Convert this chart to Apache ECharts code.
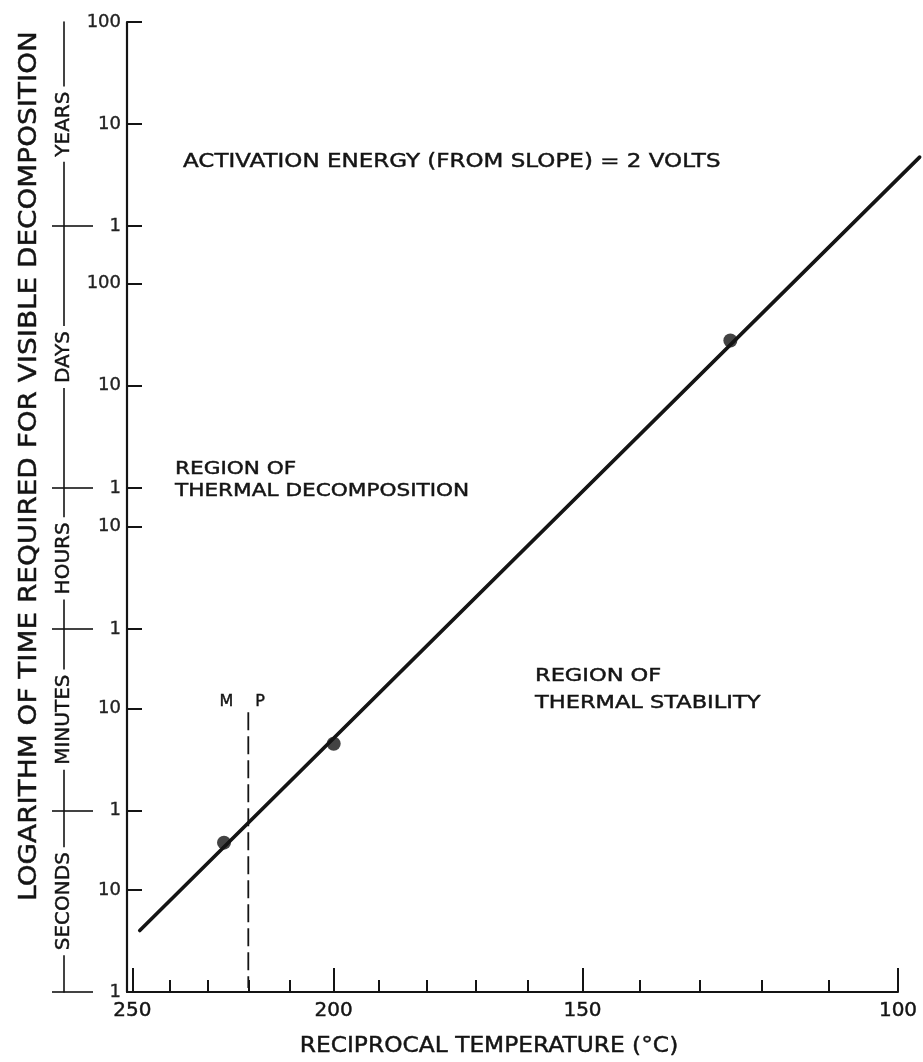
<!DOCTYPE html>
<html>
<head>
<meta charset="utf-8">
<title>Decomposition time vs reciprocal temperature</title>
<script src="https://cdn.jsdelivr.net/npm/echarts@6/dist/echarts.min.js"></script>
<style>
  html, body { margin: 0; padding: 0; background: #fff; }
  #chart { width: 923px; height: 1062px; }
</style>
</head>
<body>
<div id="chart"></div>
<script>
// ---- data ----
// measured points: temperature (°C) and time to visible decomposition (seconds)
const pointTempsC = [226, 200, 125];
const pointTimesSec = [29, 270, 2.4e6];

// straight-line fit drawn through the points (end points)
const fitTempsC = [248, 97];
const fitTimesSec = [4, 1.5e8];

// melting point marker: temperature and vertical extent (seconds)
const meltTempC = 220;
const meltTimesSec = [1, 550];

// temperature axis ticks (°C)
const tempMajor = [250, 200, 150, 100];
const tempMinor = [240, 230, 220, 210, 190, 180, 170, 160, 140, 130, 120, 110];
const tempLeftEdge = 251.5;
const tempRightEdge = 100;

// time axis ticks (seconds) and their labels in the unit of each band
const yTickSeconds = [1, 10, 60, 600, 3600, 36000, 86400, 864000, 8640000, 31557600, 315576000, 3155760000];
const yTickLabels = ['1', '10', '1', '10', '1', '10', '1', '10', '100', '1', '10', '100'];

// unit bands on the outer scale (band edges in seconds)
const unitBoundsSec = [1, 60, 3600, 86400, 31557600, 3155760000];
const unitNames = ['SECONDS', 'MINUTES', 'HOURS', 'DAYS', 'YEARS'];

// ---- helpers ----
const recip = c => 1000 / (c + 273.15);           // 1000 / T(K)
const toC = v => 1000 / v - 273.15;
const lg = s => Math.log10(s);

const INK = '#141414';
const FONT = '"DejaVu Sans", "Liberation Sans", sans-serif';
// a hairline outline thickens the strokes of the lettering a little
const TEXT_EDGE = { textBorderColor: INK, textBorderWidth: 0.45 };

const yMin = lg(unitBoundsSec[0]);
const yMax = lg(unitBoundsSec[unitBoundsSec.length - 1]);
const yTickVals = yTickSeconds.map(lg);
const unitBoundVals = unitBoundsSec.slice(0, -1).map(lg);
const unitMidVals = unitNames.map((_, i) => (lg(unitBoundsSec[i]) + lg(unitBoundsSec[i + 1])) / 2);

function nearestIndex(arr, v) {
  let best = 0;
  for (let i = 1; i < arr.length; i++) {
    if (Math.abs(arr[i] - v) < Math.abs(arr[best] - v)) best = i;
  }
  return best;
}

const xMin = recip(tempLeftEdge);
const xMax = recip(tempRightEdge);

const chart = echarts.init(document.getElementById('chart'), null, { renderer: 'canvas' });

function annotation(text, x, y, size, scaleX, opts) {
  opts = opts || {};
  return {
    type: 'text', x: x, y: y, scaleX: scaleX, rotation: opts.rotation || 0,
    style: {
      text: text, fill: INK, font: size + 'px ' + FONT,
      align: opts.align || 'left', verticalAlign: 'middle',
      stroke: INK, lineWidth: 0.45
    }
  };
}

const option = {
  animation: false,
  backgroundColor: '#fff',
  grid: { left: 127, right: 25, top: 22, bottom: 70, outerBoundsMode: 'none' },
  xAxis: [
    {
      type: 'value', position: 'bottom', min: xMin, max: xMax,
      splitLine: { show: false },
      axisLine: { show: true, lineStyle: { color: INK, width: 2 } },
      axisTick: { show: true, inside: true, length: 24, customValues: tempMajor.map(recip),
                  lineStyle: { color: INK, width: 2 } },
      axisLabel: Object.assign({ show: true, customValues: tempMajor.map(recip), margin: 9,
                   formatter: v => String(Math.round(toC(v))),
                   color: INK, fontFamily: FONT, fontSize: 20 }, TEXT_EDGE)
    },
    {
      type: 'value', position: 'bottom', min: xMin, max: xMax,
      splitLine: { show: false },
      axisLine: { show: false },
      axisTick: { show: true, inside: true, length: 12, customValues: tempMinor.map(recip),
                  lineStyle: { color: INK, width: 2 } },
      axisLabel: { show: false }
    }
  ],
  yAxis: [
    {
      // main logarithmic time scale
      type: 'value', position: 'left', min: yMin, max: yMax,
      splitLine: { show: false },
      axisLine: { show: true, lineStyle: { color: INK, width: 2.2 } },
      axisTick: { show: true, inside: true, length: 15, customValues: yTickVals,
                  lineStyle: { color: INK, width: 2 } },
      axisLabel: Object.assign({ show: true, customValues: yTickVals, margin: 6,
                   formatter: v => yTickLabels[nearestIndex(yTickVals, v)],
                   color: '#222', fontFamily: FONT, fontSize: 18 },
                   { textBorderColor: '#222', textBorderWidth: 0.35 })
    },
    {
      // outer unit scale: line, outward cross ticks and band names
      type: 'value', position: 'left', offset: 63, min: yMin, max: yMax,
      splitLine: { show: false },
      axisLine: { show: true, lineStyle: { color: INK, width: 1.6 } },
      axisTick: { show: true, inside: false, length: 12, customValues: unitBoundVals,
                  lineStyle: { color: INK, width: 1.6 } },
      axisLabel: Object.assign({ show: true, customValues: unitMidVals, rotate: 90, margin: 0,
                   align: 'center', verticalAlign: 'middle',
                   backgroundColor: '#fff', padding: [0, 5, 0, 5],
                   formatter: v => unitNames[nearestIndex(unitMidVals, v)],
                   color: INK, fontFamily: FONT, fontSize: 20 }, TEXT_EDGE)
    },
    {
      // outer unit scale: inward half of the cross ticks
      type: 'value', position: 'left', offset: 63, min: yMin, max: yMax,
      splitLine: { show: false },
      axisLine: { show: false },
      axisTick: { show: true, inside: true, length: 29, customValues: unitBoundVals,
                  lineStyle: { color: INK, width: 1.6 } },
      axisLabel: { show: false }
    }
  ],
  series: [
    {
      // fitted line; runs a little past the end of the temperature axis
      name: 'fit',
      type: 'custom',
      coordinateSystem: 'cartesian2d',
      xAxisIndex: 0, yAxisIndex: 0,
      clip: false,
      encode: { x: [0, 2], y: [1, 3] },
      data: [[recip(fitTempsC[0]), lg(fitTimesSec[0]), recip(fitTempsC[1]), lg(fitTimesSec[1])]],
      renderItem: (params, api) => {
        const a = api.coord([api.value(0), api.value(1)]);
        const b = api.coord([api.value(2), api.value(3)]);
        return {
          type: 'line',
          shape: { x1: a[0], y1: a[1], x2: b[0], y2: b[1] },
          style: { stroke: INK, lineWidth: 3.6, lineCap: 'round' }
        };
      },
      z: 3
    },
    {
      name: 'measured',
      type: 'scatter',
      xAxisIndex: 0, yAxisIndex: 0,
      symbol: 'circle',
      symbolSize: 14,
      itemStyle: { color: INK },
      data: pointTempsC.map((t, i) => [recip(t), lg(pointTimesSec[i])]),
      z: 4
    },
    {
      // melting point: dashed vertical with "M P" on either side of its top
      name: 'melting point',
      type: 'custom',
      coordinateSystem: 'cartesian2d',
      xAxisIndex: 0, yAxisIndex: 0,
      clip: false,
      encode: { x: 0, y: [1, 2] },
      data: [[recip(meltTempC), lg(meltTimesSec[0]), lg(meltTimesSec[1])]],
      renderItem: (params, api) => {
        const bottom = api.coord([api.value(0), api.value(1)]);
        const top = api.coord([api.value(0), api.value(2)]);
        const textStyle = { fill: INK, font: '16px ' + FONT, verticalAlign: 'middle',
                            stroke: INK, lineWidth: 0.4 };
        return {
          type: 'group',
          children: [
            {
              type: 'line',
              shape: { x1: top[0], y1: top[1], x2: bottom[0], y2: bottom[1] - 4 },
              style: { stroke: INK, lineWidth: 1.8, lineDash: [18, 6] }
            },
            { type: 'text', x: top[0] - 15, y: top[1] - 10,
              style: Object.assign({ text: 'M', align: 'right' }, textStyle) },
            { type: 'text', x: top[0] + 7, y: top[1] - 10,
              style: Object.assign({ text: 'P', align: 'left' }, textStyle) }
          ]
        };
      },
      z: 2
    }
  ],
  graphic: [
    annotation('ACTIVATION ENERGY (FROM SLOPE) = 2 VOLTS', 183, 162, 19.5, 1.18),
    annotation('REGION OF', 175, 469, 18, 1.2),
    annotation('THERMAL DECOMPOSITION', 175, 491, 18, 1.2),
    annotation('REGION OF', 535, 676, 18, 1.25),
    annotation('THERMAL STABILITY', 535, 703, 18, 1.25),
    annotation('RECIPROCAL TEMPERATURE (°C)', 489, 1046, 22, 1.06, { align: 'center' }),
    annotation('LOGARITHM OF TIME REQUIRED FOR VISIBLE DECOMPOSITION', 30, 466, 24, 1.16,
               { align: 'center', rotation: Math.PI / 2 })
  ]
};

chart.setOption(option);
</script>
</body>
</html>
